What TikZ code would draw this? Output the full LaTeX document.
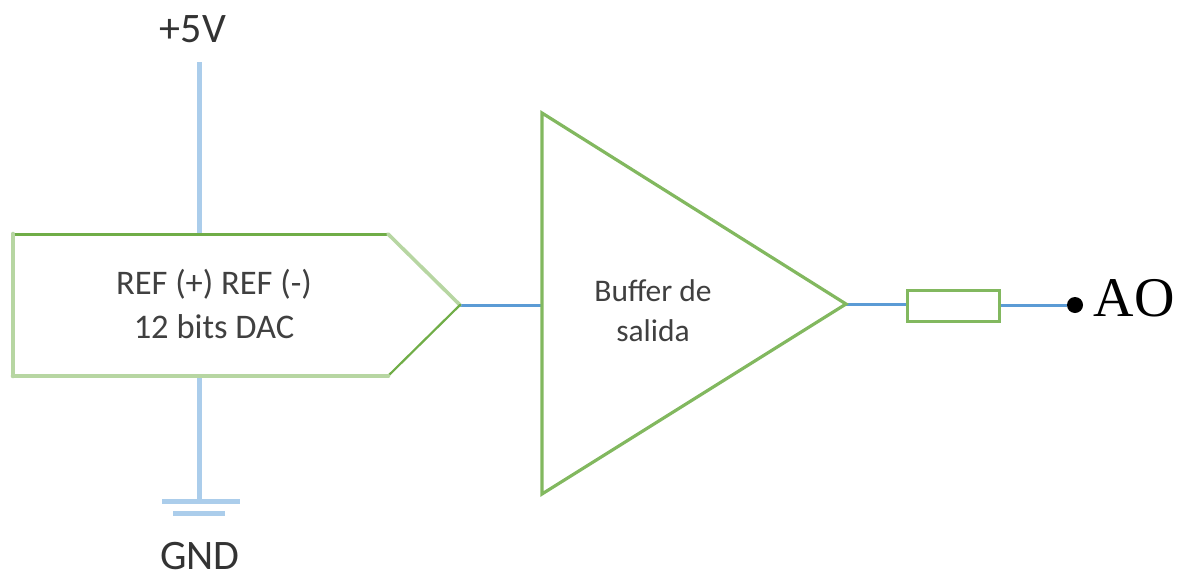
\documentclass[tikz,border=0pt]{standalone}
\usepackage{fontspec}
\setmainfont{Carlito}
\newfontfamily\aofont{Liberation Serif}
\tikzset{
  x=1pt,y=-1pt,
  rail/.style={draw={rgb,255:red,171;green,205;blue,235},line width=5pt},
  sig/.style={draw={rgb,255:red,91;green,155;blue,213},line width=3pt},
  edgeD/.style={draw={rgb,255:red,112;green,173;blue,71},line width=3pt,line cap=round},
  edgeL/.style={draw={rgb,255:red,183;green,214;blue,162},line width=4.6pt,line cap=round},
  edgeM/.style={draw={rgb,255:red,130;green,184;blue,95},line width=3.2pt,line cap=round},
  lbl/.style={inner sep=0pt,text=black!80,font=\fontsize{42}{42}\selectfont},
  blbl/.style={inner sep=0pt,text=black!75,align=center},
  dot/.style={circle,fill=black,inner sep=0pt,minimum size=16pt},
  res/.style={draw={rgb,255:red,130;green,184;blue,95},line width=3.8pt,fill=white,minimum width=92pt,minimum height=31pt,inner sep=0pt}
}
\begin{document}
\begin{tikzpicture}
\useasboundingbox (0,0) rectangle (1185,573);
% named corner points
\coordinate (dacTL) at (13,234);
\coordinate (dacTR) at (388,234);
\coordinate (dacTip) at (460,305);
\coordinate (dacBR) at (388,376);
\coordinate (dacBL) at (13,376);
\coordinate (bufT) at (542,113);
\coordinate (bufTip) at (846,304);
\coordinate (bufB) at (542,494);
\coordinate (railTop) at (199,62);
\coordinate (dacTopIn) at (199,234);
\coordinate (dacBotOut) at (199,376);
\coordinate (gndJ) at (199,501);
\coordinate (gndA) at (162,501);
\coordinate (gndB) at (240,501);
\coordinate (gndC) at (173,513);
\coordinate (gndD) at (225,513);
\coordinate (bufIn) at (542,305);
% rails
\draw[rail] (railTop) -- (dacTopIn);
\draw[rail] (dacBotOut) -- (gndJ);
\draw[rail] (gndA) -- (gndB);
\draw[rail] (gndC) -- (gndD);
% resistor and signal wires
\node[res] (resistor) at (953.5,306) {};
\node[dot] (aoDot) at (1075,305) {};
\draw[sig] (dacTip) -- (bufIn);
\draw[sig] (bufTip) -- (resistor.west |- bufTip);
\draw[sig] (resistor.east |- aoDot) -- (aoDot);
% DAC outline
\draw[edgeD] (dacTL) -- (dacTR);
\draw[edgeL,line width=3.6pt] (dacTR) -- (dacTip);
\draw[edgeD,line width=2.2pt] (dacTip) -- (dacBR);
\draw[edgeL] (dacBR) -- (dacBL);
\draw[edgeL] (dacBL) -- (dacTL);
% buffer outline
\draw[edgeM,line join=miter] (bufT) -- (bufTip) -- (bufB) -- cycle;
% labels
\node[lbl] (vcc) at (193,29) {+5V};
\node[lbl] (gnd) at (200,556) {GND};
\node[blbl,font=\fontsize{34.5}{44}\selectfont] (dac) at (214,304) {REF (+) REF (-)\\12 bits DAC};
\node[blbl,font=\fontsize{31.5}{40}\selectfont] (buf) at (653,311) {Buffer de\\salida};
\node[inner sep=0pt,font=\aofont\fontsize{56}{56}\selectfont] (ao) at (1134,298) {AO};
\end{tikzpicture}
\end{document}
